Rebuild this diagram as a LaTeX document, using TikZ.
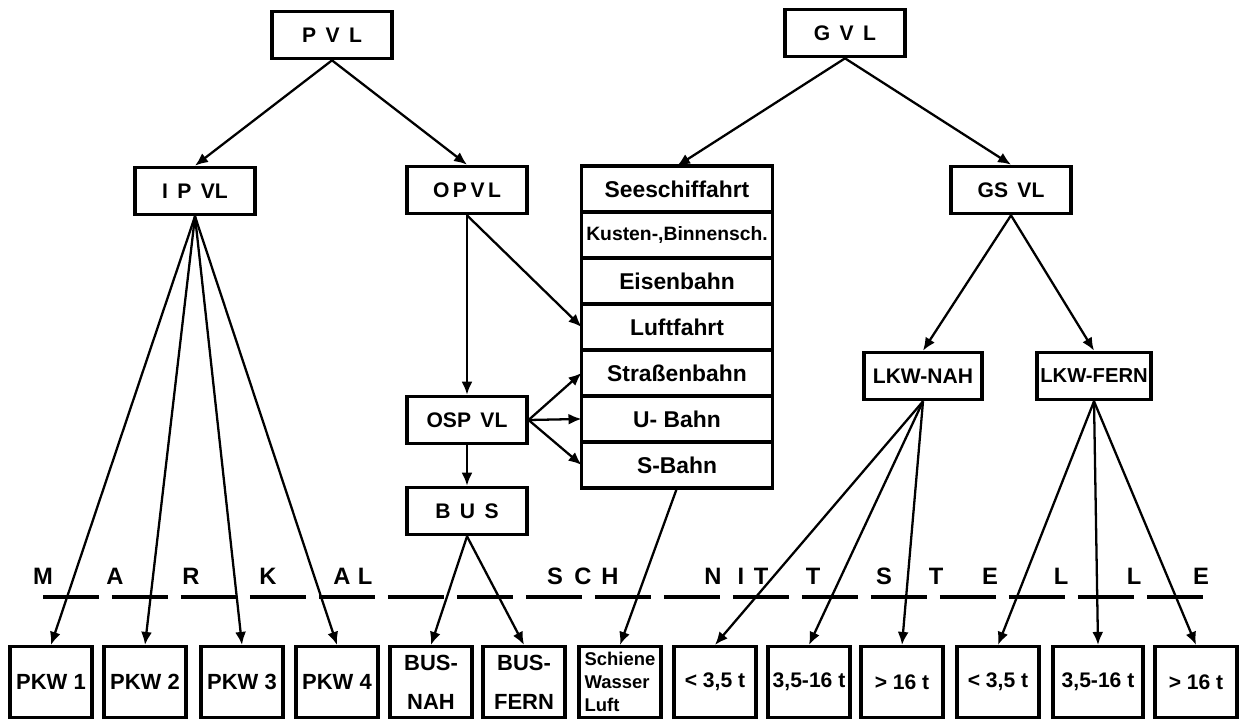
\documentclass[tikz,border=0pt]{standalone}
\usepackage{fontspec}
\setmainfont{Liberation Sans}
\usetikzlibrary{arrows.meta,positioning}

\begin{document}
\begin{tikzpicture}[
    x=0.02cm, y=-0.02cm,
    >={Latex[length=2.6mm,width=2.2mm]},
    box/.style={draw, rectangle, line width=1.8pt, inner sep=0pt, minimum width=2.4cm, minimum height=0.95cm, align=center, font=\bfseries\fontsize{12}{14}\selectfont},
    cell/.style={box, outer sep=0pt, minimum width=3.82cm, minimum height=0.92cm, font=\bfseries\fontsize{13}{15}\selectfont},
    leaf/.style={box, minimum width=1.64cm, minimum height=1.42cm, font=\bfseries\fontsize{12.5}{22}\selectfont},
    weight/.style={leaf, font=\bfseries\fontsize{12}{14}\selectfont},
    link/.style={->, line width=1.3pt},
    letter/.style={anchor=base, inner sep=0pt, font=\bfseries\fontsize{13.5}{15}\selectfont}
]
    \path[use as bounding box, fill=white] (0,0) rectangle (1239,720);

    % upper levels
    \node[box] (pvl) at (332,35) {P\, V\, L};
    \node[box] (gvl) at (845,33) {G\, V\, L};
    \node[box] (ipvl) at (195,191) {I\, P\, VL};
    \node[box] (opvl) at (467,190) {O\,P\,V\,L};
    \node[box] (gsvl) at (1011,190) {GS\, VL};
    \node[box] (ospvl) at (467,420) {OSP\, VL};
    \node[box] (bus) at (467,511) {B\, U\, S};
    \node[box, minimum width=2.36cm] (lkwnah) at (923,376) {LKW-NAH};
    \node[box, minimum width=2.28cm, font=\bfseries\fontsize{11.5}{14}\selectfont] (lkwfern) at (1094,376) {LKW-FERN};

    % carriers column
    \node[cell] (see) at (677,189) {Seeschiffahrt};
    \node[cell, below=0pt of see, font=\bfseries\fontsize{11}{14}\selectfont] (kbs) {Kusten-,Binnensch.};
    \node[cell, below=0pt of kbs] (eisen) {Eisenbahn};
    \node[cell, below=0pt of eisen] (luft) {Luftfahrt};
    \node[cell, below=0pt of luft] (strab) {Straßenbahn};
    \node[cell, below=0pt of strab] (ubahn) {U- Bahn};
    \node[cell, below=0pt of ubahn] (sbahn) {S-Bahn};

    % bottom row
    \node[leaf] (pkw1) at (51,682) {PKW 1};
    \node[leaf] (pkw2) at (145,682) {PKW 2};
    \node[leaf] (pkw3) at (242,682) {PKW 3};
    \node[leaf] (pkw4) at (337,682) {PKW 4};
    \node[leaf] (busnah) at (431,682) {BUS-\\NAH};
    \node[leaf] (busfern) at (524,682) {BUS-\\FERN};
    \node[leaf, align=left, font=\bfseries\fontsize{10.5}{13}\selectfont] (swl) at (620,682) {Schiene\\Wasser\\Luft};
    \node[weight] (nah1) at (715,682) {< 3,5 t};
    \node[weight] (nah2) at (809,682) {3,5-16 t};
    \node[weight] (nah3) at (902,682) {> 16 t};
    \node[weight] (fern1) at (998,682) {< 3,5 t};
    \node[weight, minimum width=1.8cm] (fern2) at (1098,682) {3,5-16 t};
    \node[weight] (fern3) at (1196,682) {> 16 t};

    % interface line
    \coordinate (cutl) at (43,597);
    \coordinate (cutr) at (1215,597);
    \draw[line width=1.8pt, dash pattern=on 1.12cm off 0.26cm] (cutl) -- (cutr);
    \foreach \x/\c [count=\i] in {43/M,115/A,191/R,268/K,342/A,365/L,555/S,583/C,610/H,713/N,741/I,761/T,813/T,884/S,936/T,990/E,1061/L,1134/L,1201/E}
        \node[letter] (ch\i) at (\x,584) {\c};

    % connectors
    \draw[link] (pvl.south) -- (ipvl.north);
    \draw[link] (pvl.south) -- (opvl.north);
    \draw[link] (gvl.south) -- (see.north);
    \draw[link] (gvl.south) -- (gsvl.north);
    \foreach \t in {pkw1,pkw2,pkw3,pkw4}
        \draw[link] (ipvl.south) -- (\t.north);
    \draw[link] (opvl.south) -- (ospvl.north);
    \draw[link] (opvl.south) -- (luft.west);
    \foreach \t in {strab,ubahn,sbahn}
        \draw[link] (ospvl.east) -- (\t.west);
    \draw[link] (ospvl.south) -- (bus.north);
    \draw[link] (bus.south) -- (busnah.north);
    \draw[link] (bus.south) -- (busfern.north);
    \draw[link] (sbahn.south) -- (swl.north);
    \draw[link] (gsvl.south) -- (lkwnah.north);
    \draw[link] (gsvl.south) -- (lkwfern.north);
    \foreach \t in {nah1,nah2,nah3}
        \draw[link] (lkwnah.south) -- (\t.north);
    \foreach \t in {fern1,fern2,fern3}
        \draw[link] (lkwfern.south) -- (\t.north);
\end{tikzpicture}
\end{document}
